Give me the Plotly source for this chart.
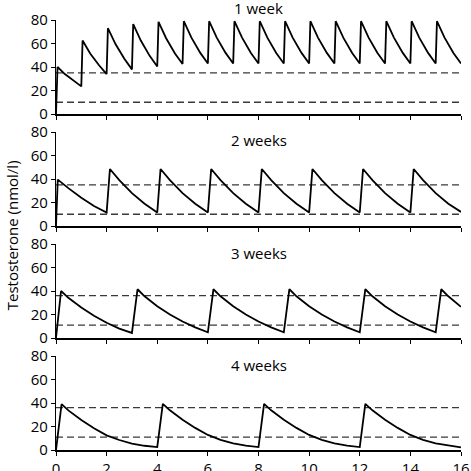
"""
Testosterone levels for different injection intervals: four stacked Plotly panels.
"""

import plotly.graph_objects as go
from plotly.subplots import make_subplots

# --- data ------------------------------------------------------------------

panel_titles = ["1 week", "2 weeks", "3 weeks", "4 weeks"]

week1_x = [
    0, 0.06, 0.35, 0.7, 1.0,
    1.05, 1.35, 1.7, 2.0,
    2.05, 2.35, 2.7, 3.0,
    3.05, 3.35, 3.7, 4.0,
    4.05, 4.35, 4.7, 5.0,
    5.05, 5.35, 5.7, 6.0,
    6.05, 6.35, 6.7, 7.0,
    7.05, 7.35, 7.7, 8.0,
    8.05, 8.35, 8.7, 9.0,
    9.05, 9.35, 9.7, 10.0,
    10.05, 10.35, 10.7, 11.0,
    11.05, 11.35, 11.7, 12.0,
    12.05, 12.35, 12.7, 13.0,
    13.05, 13.35, 13.7, 14.0,
    14.05, 14.35, 14.7, 15.0,
    15.05, 15.35, 15.7, 16.0,
]
week1_y = [
    0, 40, 34, 28, 23.5,
    62.5, 51.5, 41.5, 34,
    73, 59.5, 47, 38,
    76.5, 62.5, 49.5, 40.5,
    78.5, 64.5, 51.5, 42.5,
    79, 65, 52, 43,
    79, 65, 52, 43,
    79, 65, 52, 43,
    79, 65, 52, 43,
    79, 65, 52, 43,
    79, 65, 52, 43,
    79, 65, 52, 43,
    79, 65, 52, 43,
    79, 65, 52, 43,
    79, 65, 52, 43,
    79, 65, 52, 43,
]

week2_x = [
    0, 0.07, 0.5, 1.0, 1.5, 2.0,
    2.13, 2.5, 3.0, 3.5, 4.0,
    4.13, 4.5, 5.0, 5.5, 6.0,
    6.13, 6.5, 7.0, 7.5, 8.0,
    8.13, 8.5, 9.0, 9.5, 10.0,
    10.13, 10.5, 11.0, 11.5, 12.0,
    12.13, 12.5, 13.0, 13.5, 14.0,
    14.13, 14.5, 15.0, 15.5, 16.0,
]
week2_y = [
    0, 39.5, 32, 24, 17, 11.5,
    48.5, 39, 28, 19, 11.5,
    48.5, 39, 28, 19, 11.5,
    48.5, 39, 28, 19, 11.5,
    48.5, 39, 28, 19, 11.5,
    48.5, 39, 28, 19, 11.5,
    48.5, 39, 28, 19, 11.5,
    48.5, 39, 28, 19, 12,
]

week3_x = [
    0, 0.2, 0.5, 1.0, 1.5, 2.0, 2.5, 3.0,
    3.22, 3.5, 4.0, 4.5, 5.0, 5.5, 6.0,
    6.22, 6.5, 7.0, 7.5, 8.0, 8.5, 9.0,
    9.22, 9.5, 10.0, 10.5, 11.0, 11.5, 12.0,
    12.22, 12.5, 13.0, 13.5, 14.0, 14.5, 15.0,
    15.22, 15.5, 16.0,
]
week3_y = [
    0, 40, 34, 26, 19, 13, 8, 4.3,
    41.5, 35.5, 27, 20, 14, 9, 4.8,
    41.5, 35.5, 27, 20, 14, 9, 4.8,
    41.5, 35.5, 27, 20, 14, 9, 4.8,
    41.5, 35.5, 27, 20, 14, 9, 4.8,
    41.5, 35.5, 26.5,
]

week4_x = [
    0, 0.22, 0.5, 1.0, 1.5, 2.0, 2.5, 3.0, 3.5, 4.0,
    4.22, 4.5, 5.0, 5.5, 6.0, 6.5, 7.0, 7.5, 8.0,
    8.22, 8.5, 9.0, 9.5, 10.0, 10.5, 11.0, 11.5, 12.0,
    12.22, 12.5, 13.0, 13.5, 14.0, 14.5, 15.0, 15.5, 16.0,
]
week4_y = [
    0, 39, 33.5, 25.5, 18.5, 12.5, 8.5, 5.5, 3.6, 2.5,
    39.3, 33.8, 25.8, 18.8, 12.8, 8.7, 5.7, 3.7, 2.5,
    39.3, 33.8, 25.8, 18.8, 12.8, 8.7, 5.7, 3.7, 2.5,
    39.3, 33.8, 25.8, 18.8, 12.8, 8.7, 5.7, 3.7, 2.3,
]

upper_limit = [35, 35, 36, 36]
lower_limit = [10, 10, 11, 11]

x_range = [0, 16]
x_ticks = [0, 2, 4, 6, 8, 10, 12, 14, 16]
y_ticks = [0, 20, 40, 60, 80]

# ---------------------------------------------------------------------------

FONT = "Open Sans, Liberation Sans, sans-serif"

series = [(week1_x, week1_y), (week2_x, week2_y), (week3_x, week3_y), (week4_x, week4_y)]

fig = make_subplots(rows=4, cols=1, shared_xaxes=True, vertical_spacing=18 / 430)

for i, (xs, ys) in enumerate(series):
    row = i + 1
    for level in (upper_limit[i], lower_limit[i]):
        fig.add_trace(
            go.Scatter(
                x=x_range,
                y=[level, level],
                mode="lines",
                line={"color": "#3a3a3a", "width": 1.3, "dash": "7px,4px"},
                showlegend=False,
                hoverinfo="skip",
            ),
            row=row, col=1,
        )
    fig.add_trace(
        go.Scatter(
            x=xs,
            y=ys,
            mode="lines",
            line={"color": "black", "width": 1.8},
            showlegend=False,
        ),
        row=row, col=1,
    )

fig.update_xaxes(
    range=x_range,
    tickvals=x_ticks,
    showline=True,
    linecolor="black",
    linewidth=1.5,
    ticks="outside",
    ticklen=4,
    tickcolor="black",
    showgrid=False,
    zeroline=False,
    automargin=False,
    tickfont={"size": 15, "color": "black", "family": FONT},
)
fig.update_yaxes(
    range=[0, 80],
    tickvals=y_ticks,
    showline=True,
    linecolor="black",
    linewidth=1.3,
    ticks="outside",
    ticklen=4,
    tickcolor="black",
    showgrid=False,
    zeroline=False,
    automargin=False,
    tickfont={"size": 15, "color": "black", "family": FONT},
)

# panel captions
title_y = [1.028, 0.721, 0.458, 0.198]
for text, ty in zip(panel_titles, title_y):
    fig.add_annotation(
        text=text, x=0.5, y=ty, xref="paper", yref="paper",
        showarrow=False, xanchor="center", yanchor="middle",
        font={"size": 15, "color": "black", "family": FONT},
    )

fig.add_annotation(
    text="Testosterone (nmol/l)", x=-0.108, y=0.5, xref="paper", yref="paper",
    showarrow=False, textangle=-90, xanchor="center", yanchor="middle",
    font={"size": 15, "color": "black", "family": FONT},
)

fig.update_layout(
    width=471,
    height=471,
    margin=dict(l=56, r=10, t=20, b=21),
    paper_bgcolor="white",
    plot_bgcolor="white",
)

# the page's default body margin would push the figure off the window
fig.write_html(
    "out.html",
    config={"displayModeBar": False},
    post_script="document.body.style.margin='0';document.body.style.overflow='hidden';",
)
